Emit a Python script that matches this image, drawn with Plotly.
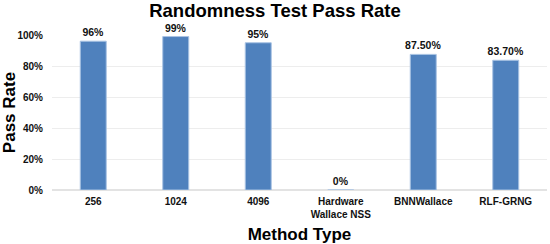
import plotly.graph_objects as go

categories = ["256", "1024", "4096", "Hardware<br>Wallace NSS", "BNNWallace", "RLF-GRNG"]
pass_rate = [0.96, 0.99, 0.95, 0.0, 0.875, 0.837]
labels = ["96%", "99%", "95%", "0%", "87.50%", "83.70%"]
y_ticks = [0, 0.2, 0.4, 0.6, 0.8, 1.0]
y_tick_text = ["0%", "20%", "40%", "60%", "80%", "100%"]

font_b = "Liberation Sans"

fig = go.Figure(go.Bar(
    x=categories, y=pass_rate, text=labels, textposition="outside",
    constraintext="none",
    textfont=dict(family=font_b, size=10.5, color="#111111", weight="bold"),
    marker=dict(color="#4F81BD", line=dict(color="#A9C3E3", width=1)),
    cliponaxis=False,
))
fig.update_layout(
    width=550, height=244,
    margin=dict(l=52, r=3, t=35, b=54),
    paper_bgcolor="white", plot_bgcolor="white",
    bargap=0.685,
    showlegend=False,
    title=dict(text="<b>Randomness Test Pass Rate</b>", x=0.5, xanchor="center",
               y=0.985, yanchor="top",
               font=dict(family=font_b, size=18.5, color="black")),
    xaxis=dict(
        automargin=False,
        tickfont=dict(family=font_b, size=10, color="#111111", weight="bold"),
        title=dict(text="<b>Method Type</b>", font=dict(family=font_b, size=17, color="black"), standoff=14),
        showline=False, ticks="", ticklabelstandoff=4,
    ),
    yaxis=dict(
        automargin=False,
        range=[0, 1.0], tickvals=y_ticks, ticktext=y_tick_text,
        tickfont=dict(family=font_b, size=10, color="#111111", weight="bold"),
        title=dict(text="<b>Pass Rate</b>", font=dict(family=font_b, size=17, color="black"), standoff=10),
        gridcolor="#EDEDED", gridwidth=1, zeroline=True, zerolinecolor="#E3E3E3",
        showline=False, ticks="", ticklabelstandoff=8,
    ),
)
fig.write_html("out.html", config={"displayModeBar": False},
               post_script="document.body.style.margin='0';")
